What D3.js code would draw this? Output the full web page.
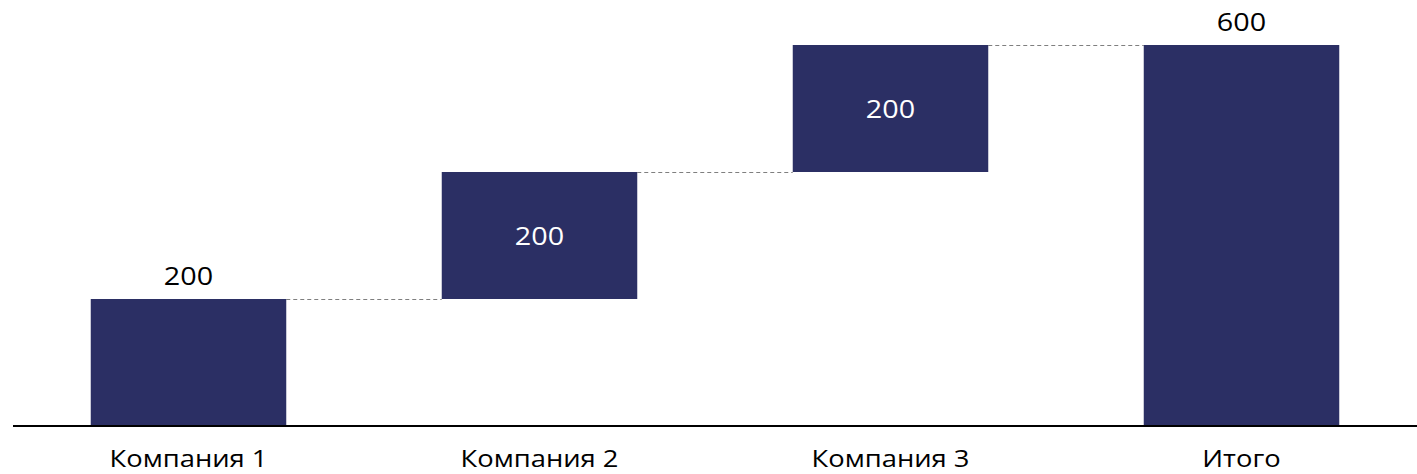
<!DOCTYPE html>
<html><head><meta charset="utf-8">
<script src="https://cdn.jsdelivr.net/npm/d3@7"></script>
<style>html,body{margin:0;padding:0;background:#fff;}</style>
</head><body>
<svg id="chart" width="1417" height="474"></svg>
<script>
const categories = ["Компания 1", "Компания 2", "Компания 3", "Итого"];
const values = [200, 200, 200, 600];
const isTotal = [false, false, false, true];

const svg = d3.select("#chart");
const font = "'Open Sans', sans-serif";
const color = "#2b2f64";

const x = d3.scaleBand().domain(categories).range([13, 1417]).paddingInner(0.443).paddingOuter(0.2215);
const y = d3.scaleLinear().domain([0, 600]).range([426, 45]);

let cum = 0;
const bars = categories.map((c, i) => {
  let start, end;
  if (isTotal[i]) { start = 0; end = values[i]; cum = values[i]; }
  else { start = cum; end = cum + values[i]; cum = end; }
  return {c, start, end, v: values[i], first: i === 0, total: isTotal[i]};
});

// connectors
for (let i = 0; i < bars.length - 1; i++) {
  const yy = Math.round(y(bars[i].end)) + 0.5;
  svg.append("line")
    .attr("x1", x(bars[i].c) + x.bandwidth()).attr("x2", x(bars[i+1].c))
    .attr("y1", yy).attr("y2", yy)
    .attr("stroke", "#7f7f7f").attr("stroke-width", 1).attr("stroke-dasharray", "4,3");
}

svg.selectAll("rect.bar").data(bars).join("rect").attr("class", "bar")
  .attr("x", d => x(d.c)).attr("width", x.bandwidth())
  .attr("y", d => y(d.end)).attr("height", d => y(d.start) - y(d.end))
  .attr("fill", color);

// value labels
svg.selectAll("text.val").data(bars).join("text").attr("class", "val")
  .attr("transform", d => {
    const cx = x(d.c) + x.bandwidth() / 2;
    const cy = (d.first || d.total) ? y(d.end) - 14 : (y(d.start) + y(d.end)) / 2 + 9;
    return `translate(${cx},${cy}) scale(1.15,1)`;
  })
  .attr("text-anchor", "middle")
  .attr("font-family", font).attr("font-size", 25)
  .attr("fill", d => (d.first || d.total) ? "#000" : "#fff")
  .text(d => d.v);

// axis
const ax = svg.append("g").attr("transform", `translate(0,${y(0)})`)
  .call(d3.axisBottom(x).tickSize(0).tickPadding(0));
ax.select(".domain").attr("stroke", "#000").attr("stroke-width", 2).attr("d", "M13,0H1417");
ax.selectAll(".tick text")
  .attr("y", 0).attr("dy", 0)
  .attr("transform", "translate(0,41) scale(1.14,1)")
  .attr("font-family", font).attr("font-size", 24).attr("fill", "#000");
</script>
</body></html>
